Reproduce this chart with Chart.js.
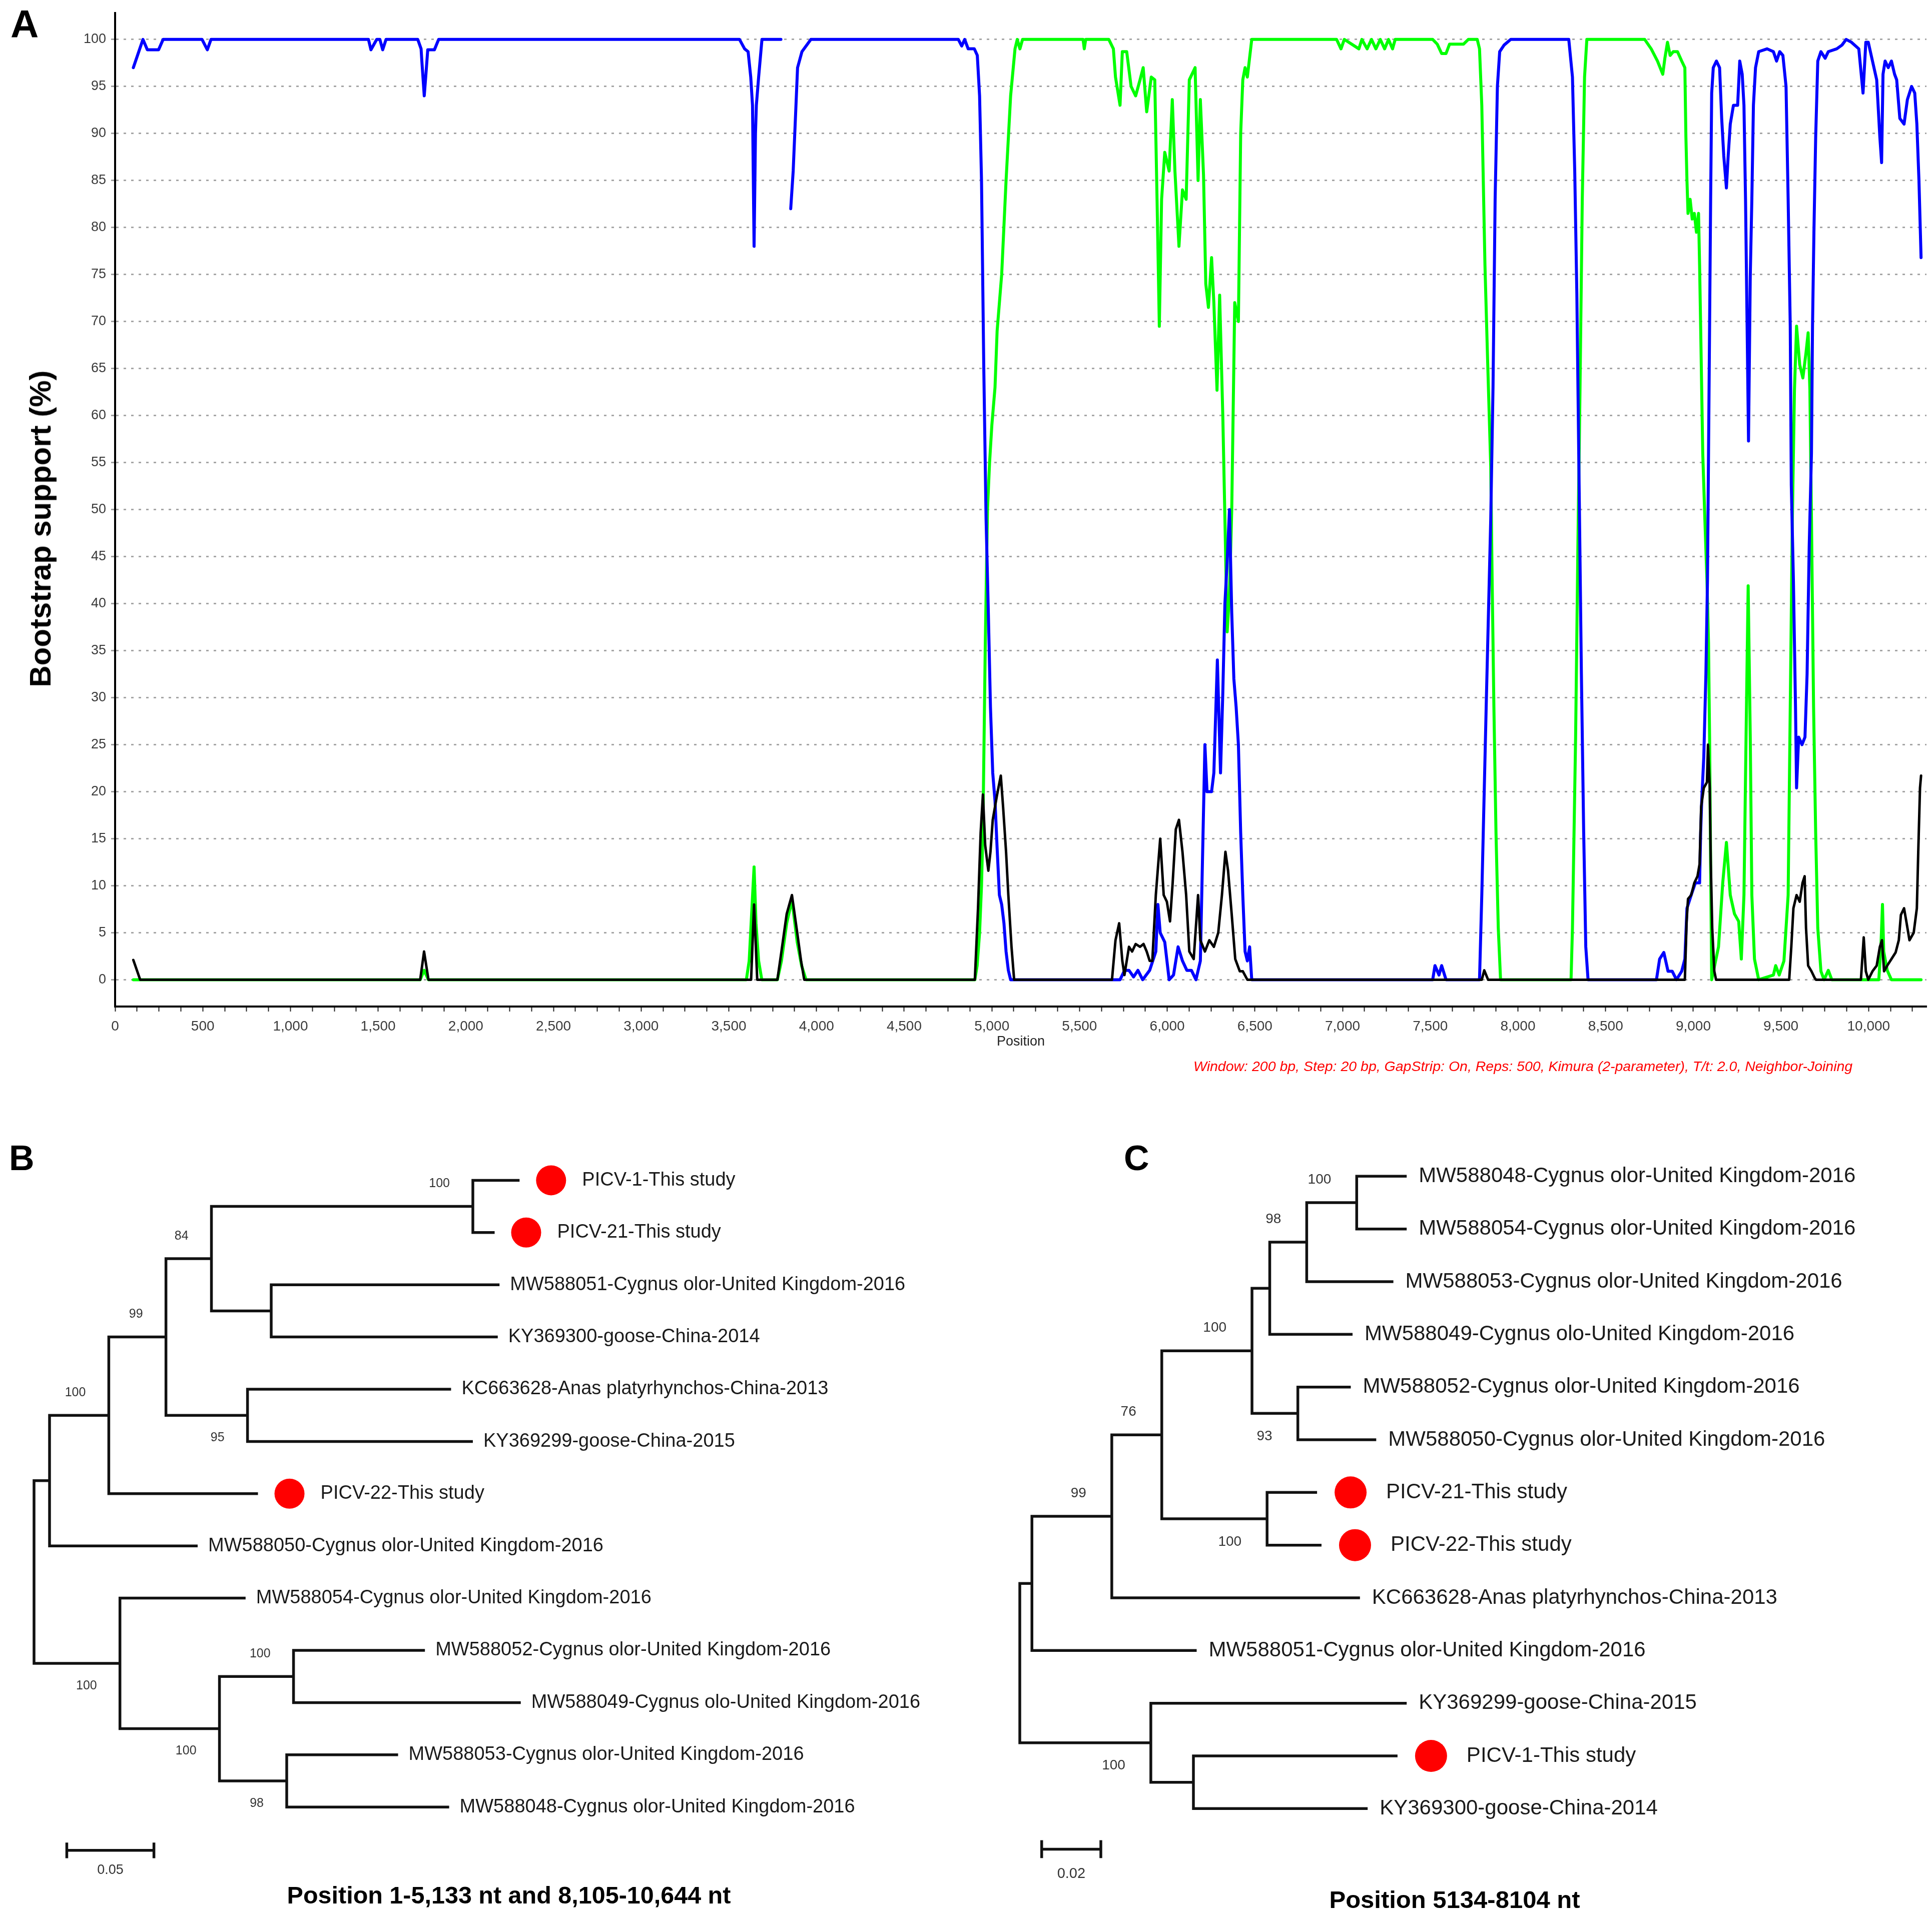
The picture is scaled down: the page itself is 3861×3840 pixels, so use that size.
<!DOCTYPE html>
<html>
<head>
<meta charset="utf-8">
<script src="https://cdn.jsdelivr.net/npm/chart.js@4.4.1/dist/chart.umd.min.js"></script>
<style>
  html, body { margin: 0; padding: 0; background: #fff; }
  body { width: 3861px; height: 3840px; position: relative; overflow: hidden; font-family: Arial, "Liberation Sans", sans-serif; }
  .box { position: absolute; }
  .lbl { position: absolute; line-height: 1; white-space: nowrap; color: #000; }
</style>
</head>
<body>
<div class="box" style="left:0;top:0;width:3861px;height:2200px"><canvas id="chartA"></canvas></div>
<div class="box" style="left:0;top:2200px;width:1950px;height:1640px"><canvas id="treeB"></canvas></div>
<div class="box" style="left:1950px;top:2200px;width:1911px;height:1640px"><canvas id="treeC"></canvas></div>

<div class="lbl" style="left:21px;top:9px;font-size:78px;font-weight:bold">A</div>
<div class="lbl" style="left:81px;top:1057px;font-size:60px;font-weight:bold;transform:translate(-50%,-50%) rotate(-90deg)">Bootstrap support (%)</div>
<div class="lbl" style="left:18px;top:2280px;font-size:70px;font-weight:bold">B</div>
<div class="lbl" style="left:2246px;top:2280px;font-size:70px;font-weight:bold">C</div>
<div class="lbl" style="left:2385px;top:2117px;font-size:28.5px;font-style:italic;color:#ff0000">Window: 200 bp, Step: 20 bp, GapStrip: On, Reps: 500, Kimura (2-parameter), T/t: 2.0, Neighbor-Joining</div>
<div class="lbl" style="left:1017px;top:3764px;font-size:48.5px;font-weight:bold;transform:translateX(-50%)">Position 1-5,133 nt and 8,105-10,644 nt</div>
<div class="lbl" style="left:2907px;top:3773px;font-size:49px;font-weight:bold;transform:translateX(-50%)">Position 5134-8104 nt</div>

<script>
// ---- panel A: bootscan, [position (bp), bootstrap support (%)] ----
const bluePts = [
  [104,97],[159,100],[184,98.9],[248,98.9],[274,100],[496,100],[526,98.9],[547,100],
  [1445,100],[1459,98.9],[1492,100],[1510,100],[1526,98.9],[1545,100],
  [1726,100],[1745,99],[1749,97.8],[1763,94],[1773,96.4],[1783,98.9],[1821,98.9],[1845,100],
  [3561,100],[3590,99],[3610,98.7],[3625,96],[3635,93],[3644,78],[3652,90],[3657,93],[3670,96],[3689,100],[3797,100],[3825,null],
  [3853,82],[3867,86],[3892,97],[3917,98.7],[3968,100],
  [4809,100],[4828,99.3],[4845,100],[4865,99],[4900,99],[4917,98.3],[4930,94],[4941,85],[4954,65],[4967,49],[4980,39],[4992,29],
  [5005,22],[5018,19],[5030,14],[5043,9],[5056,8],[5069,6],[5081,3],[5094,1],[5107,0],
  [5731,0],[5757,1],[5782,1],[5808,0.3],[5833,1],[5860,0],[5900,1],[5935,3],[5947,8],[5960,5],[5986,4],[6011,0],[6036,0.5],
  [6062,3.5],[6087,2],[6112,1],[6138,1],[6164,0],[6189,2],[6215,25],[6227,20],[6253,20],[6266,22],[6286,34],[6304,22],
  [6317,30.5],[6329,40],[6342,44.5],[6355,50],[6368,39],[6380,32],[6393,29],[6406,25],[6419,15.6],[6431,9],[6444,3],
  [6457,2],[6470,3.5],[6482,0],
  [7514,0],[7527,1.5],[7550,0.5],[7565,1.5],[7590,0],
  [7781,0],[7794,9],[7819,29],[7845,49],[7858,63],[7870,83],[7883,95],[7896,98.7],[7921,99.4],[7959,100],
  [8290,100],[8311,96],[8324,86],[8336,73],[8349,52.6],[8362,32.5],[8375,15.7],[8387,3.5],[8400,0],
  [8790,0],[8808,2.2],[8832,2.9],[8856,0.9],[8880,0.9],[8904,0],[8934,0.9],[8952,2.2],[8964,7.6],[8988,9],[9012,10.3],
  [9036,10.3],[9042,15.6],[9048,19],[9060,23.7],[9072,32.5],[9081,42.5],[9087,56],[9093,69.5],[9099,83],[9105,94.3],
  [9114,97],[9132,97.7],[9150,97],[9162,91.6],[9174,87.6],[9189,84.2],[9199,87.6],[9211,91],[9229,93],[9253,93],
  [9265,97.7],[9279,96.3],[9289,93],[9298,83],[9307,69.5],[9315,57.3],[9325,74.8],[9334,83],[9343,93],[9355,97],
  [9373,98.7],[9421,99],[9457,98.7],[9475,97.7],[9493,98.7],[9511,98.3],[9529,95],[9541,83],[9553,69.5],[9559,52.6],
  [9571,42.5],[9583,29],[9589,20.4],[9601,25.8],[9620,25],[9637,25.8],[9649,32.5],[9661,46],[9674,56],[9680,69.5],
  [9688,79.5],[9698,89.6],[9710,97.7],[9728,98.7],[9752,98],[9770,98.7],[9818,99],[9848,99.4],[9872,100],[9902,99.7],
  [9944,99],[9968,94.3],[9984,99.7],[9998,99.7],[10022,97.7],[10046,95.7],[10064,89.6],[10074,86.9],[10082,96.3],
  [10094,97.7],[10112,97],[10130,97.7],[10148,96.3],[10160,95.7],[10178,91.6],[10202,91],[10221,93.6],[10245,95],
  [10263,94.3],[10275,91],[10287,85],[10299,76.8]
];

const greenPts = [
  [104,0],[1740,0],[1762,1],[1787,0],
  [3600,0],[3616,2],[3630,7],[3644,12],[3655,6],[3670,2],[3688,0],
  [3777,0],[3800,2],[3830,6],[3860,8.5],[3890,4],[3915,1.5],[3940,0],
  [4903,0],[4916,1.5],[4930,5],[4941,10],[4949,16],[4962,35],[4975,50],[4987,55],[5000,59],[5018,63],[5030,69],[5056,75],
  [5081,85],[5107,94],[5132,99],[5145,100],[5160,99],[5175,100],[5520,100],[5527,99],[5535,100],[5667,100],
  [5693,99],[5705,96],[5731,93],[5744,98.7],[5769,98.7],[5794,95],[5820,94],[5845,95.7],[5863,97],[5883,92.3],
  [5909,96],[5929,95.7],[5942,83],[5955,69.5],[5968,83],[5986,88],[6011,86],[6029,93.6],[6044,86],[6067,78],
  [6087,84],[6108,83],[6126,95.7],[6159,97],[6176,85],[6189,93.6],[6207,85.6],[6220,74],[6235,71.5],[6253,76.8],
  [6266,72],[6284,62.7],[6299,72.8],[6317,60],[6329,49],[6342,37],[6355,41],[6368,50],[6385,72],[6406,70],
  [6419,90],[6431,95.7],[6444,97],[6457,96],[6482,100],
  [6966,100],[6991,99],[7010,100],[7093,99],[7110,100],[7140,99],[7165,100],[7190,99],[7215,100],[7240,99],
  [7262,100],[7285,99],[7300,100],[7514,100],[7540,99.5],[7565,98.5],[7590,98.5],[7610,99.5],[7690,99.5],[7717,100],
  [7768,100],[7781,99],[7794,93],[7812,76],[7827,66],[7845,54.6],[7853,42.5],[7863,29],[7875,15.6],[7888,5.5],[7901,0],
  [8303,0],[8311,5.5],[8329,25.8],[8342,46],[8354,62.7],[8367,83],[8380,96],[8393,100],
  [8723,100],[8760,99],[8796,97.7],[8826,96.3],[8838,98],[8853,99.7],[8868,98.3],[8886,98.7],[8910,98.7],[8934,97.7],
  [8952,97],[8958,89.6],[8964,85],[8970,81.5],[8982,83],[8994,80.9],[9006,81.5],[9018,79.5],[9030,81.5],[9036,76],
  [9042,69.5],[9048,62.7],[9054,56],[9066,49],[9078,42.5],[9087,35.8],[9093,25.8],[9099,12.3],[9105,0],
  [9144,3.5],[9168,10.3],[9189,14.6],[9211,9],[9235,7],[9259,6.2],[9274,2.2],[9289,9],[9301,25.8],[9313,41.9],
  [9325,25.8],[9334,9],[9349,2.2],[9373,0],[9457,0.5],[9470,1.5],[9490,0.5],[9517,2],[9541,9],[9553,29],[9565,49],
  [9577,62.7],[9589,69.5],[9607,65.4],[9625,64],[9643,66.7],[9655,68.8],[9665,62.7],[9674,49],[9686,29],[9698,15.6],
  [9710,5.5],[9728,0.9],[9746,0],[9770,1],[9790,0],
  [10058,0],[10070,3.5],[10079,8],[10086,3],[10106,1],[10130,0],[10299,0]
];

const blackPts = [
  [104,2.1],[143,0],[1740,0],[1762,3],[1787,0],
  [3627,0],[3644,8],[3662,0],[3777,0],[3800,3],[3830,7],[3860,9],[3890,5],[3912,2],[3930,0],
  [4903,0],[4921,7.6],[4936,15.6],[4949,19.7],[4962,14.3],[4980,11.6],[4992,13.6],[5005,17],[5030,19.7],[5051,21.7],
  [5064,18.4],[5081,13.6],[5094,9],[5112,3.5],[5127,0],
  [5685,0],[5705,4.2],[5726,6],[5744,2],[5756,0.5],[5782,3.5],[5800,3],[5820,3.8],[5845,3.5],[5865,3.8],[5883,3],
  [5900,2],[5915,2],[5935,9],[5960,15],[5980,9],[5998,8.3],[6016,6.2],[6031,10.3],[6049,16],[6067,17],[6087,13.6],
  [6108,9],[6126,3],[6151,2.2],[6176,9],[6189,4.2],[6215,3],[6240,4.2],[6266,3.5],[6291,5],[6312,9],[6332,13.6],
  [6347,11.6],[6368,6.9],[6388,2.2],[6414,0.9],[6431,0.9],[6457,0],
  [7794,0],[7808,1],[7830,0],
  [8952,0],[8962,6.2],[8970,8.6],[8988,9],[9006,10.3],[9024,11],[9036,12.3],[9045,18.4],[9060,20.4],[9078,21],
  [9084,25],[9094,20.4],[9100,12.3],[9108,5.5],[9120,0.9],[9130,0],
  [9547,0],[9559,3.5],[9571,7.6],[9589,9],[9607,8.3],[9623,10.3],[9635,11],[9643,5.5],[9655,1.5],[9674,0.9],[9692,0.2],[9700,0],
  [9956,0],[9972,4.5],[9984,0.9],[9998,0],[10022,0.9],[10046,1.5],[10064,3.5],[10076,4.2],[10088,0.9],[10106,1.5],
  [10130,2.2],[10154,2.9],[10172,4.2],[10184,6.9],[10202,7.6],[10215,6.2],[10233,4.2],[10257,5],[10275,7.6],
  [10283,13.6],[10293,20.4],[10299,21.7]
];

const posTicks = [0,500,1000,1500,2000,2500,3000,3500,4000,4500,5000,5500,6000,6500,7000,7500,8000,8500,9000,9500,10000];
const supportTicks = [0,5,10,15,20,25,30,35,40,45,50,55,60,65,70,75,80,85,90,95,100];

// ---- panel B tree (branch depth from root, substitutions/site) ----
const treeBLeaves = [
  'PICV-1-This study', 'PICV-21-This study', 'MW588051-Cygnus olor-United Kingdom-2016', 'KY369300-goose-China-2014',
  'KC663628-Anas platyrhynchos-China-2013', 'KY369299-goose-China-2015', 'PICV-22-This study',
  'MW588050-Cygnus olor-United Kingdom-2016', 'MW588054-Cygnus olor-United Kingdom-2016',
  'MW588052-Cygnus olor-United Kingdom-2016', 'MW588049-Cygnus olo-United Kingdom-2016',
  'MW588053-Cygnus olor-United Kingdom-2016', 'MW588048-Cygnus olor-United Kingdom-2016'
];
const treeBLen = [0.2786, 0.2643, 0.2671, 0.2661, 0.2393, 0.2518, 0.1285, 0.0939, 0.1214, 0.2243, 0.2793, 0.2089, 0.2382];
// [node, upper child, lower child, depth, bootstrap]
const treeBNodes = [
  ['a', 0, 1, 0.2518, 100], ['b', 2, 3, 0.1361, null], ['c', 'a', 'b', 0.1018, 84], ['d', 4, 5, 0.1225, 95],
  ['e', 'c', 'd', 0.0757, 99], ['f', 'e', 6, 0.0429, 100], ['g', 'f', 7, 0.0089, null],
  ['h', 9, 10, 0.1489, 100], ['i', 11, 12, 0.1450, 98], ['j', 'h', 'i', 0.1064, 100], ['k', 8, 'j', 0.0493, 100],
  ['root', 'g', 'k', 0, null]
];
const treeBBar = 0.05;

// ---- panel C tree ----
const treeCLeaves = [
  'MW588048-Cygnus olor-United Kingdom-2016', 'MW588054-Cygnus olor-United Kingdom-2016',
  'MW588053-Cygnus olor-United Kingdom-2016', 'MW588049-Cygnus olo-United Kingdom-2016',
  'MW588052-Cygnus olor-United Kingdom-2016', 'MW588050-Cygnus olor-United Kingdom-2016',
  'PICV-21-This study', 'PICV-22-This study', 'KC663628-Anas platyrhynchos-China-2013',
  'MW588051-Cygnus olor-United Kingdom-2016', 'KY369299-goose-China-2015', 'PICV-1-This study', 'KY369300-goose-China-2014'
];
const treeCLen = [0.1308, 0.1308, 0.1263, 0.1125, 0.1119, 0.1205, 0.1005, 0.1020, 0.1150, 0.0598, 0.1308, 0.1277, 0.1176];
const treeCNodes = [
  ['a', 0, 1, 0.1139, 100], ['b', 'a', 2, 0.0970, 98], ['c', 'b', 3, 0.0845, null], ['d', 4, 5, 0.0940, 93],
  ['e', 'c', 'd', 0.0785, 100], ['f', 6, 7, 0.0836, 100], ['g', 'e', 'f', 0.0480, 76], ['h', 'g', 8, 0.0311, 99],
  ['i', 'h', 9, 0.0041, null], ['j', 11, 12, 0.0587, null], ['k', 10, 'j', 0.0443, 100],
  ['root', 'i', 'k', 0, null]
];
const treeCBar = 0.02;

const FONT = 'Arial, "Liberation Sans", sans-serif';
Chart.defaults.font.family = FONT;

const toXY = pts => pts.map(([x, y]) => ({x: x, y: y}));

// minor ticks every 125 bp, labels only on the 500s
const xTickVals = [];
for (let v = 0; v <= 10330; v += 125) xTickVals.push(v);

new Chart(document.getElementById('chartA'), {
  type: 'line',
  data: {
    datasets: [
      {data: toXY(blackPts), borderColor: '#000000', borderWidth: 5},
      {data: toXY(bluePts), borderColor: '#0000ff', borderWidth: 6},
      {data: toXY(greenPts), borderColor: '#00ff00', borderWidth: 6}
    ]
  },
  options: {
    responsive: true,
    maintainAspectRatio: false,
    animation: false,
    elements: {
      point: {radius: 0},
      line: {tension: 0, borderJoinStyle: 'round', borderCapStyle: 'round', fill: false}
    },
    layout: {padding: {left: 0, right: 11, top: 5, bottom: 0}},
    plugins: {legend: {display: false}, tooltip: {enabled: false}},
    scales: {
      x: {
        type: 'linear', min: 0, max: 10330,
        afterFit: s => { s.height = 188; },
        afterBuildTicks: s => { s.ticks = xTickVals.map(v => ({value: v})); },
        ticks: {
          autoSkip: false, maxRotation: 0, padding: 13, color: '#3a3a3a', font: {size: 28},
          callback: v => posTicks.includes(v) ? v.toLocaleString('en-US') : ''
        },
        grid: {drawOnChartArea: false, tickLength: 10, tickWidth: 2, tickColor: '#222'},
        border: {color: '#000', width: 4},
        title: {display: true, text: 'Position', color: '#222', font: {size: 27}, padding: {top: 0, bottom: 101}}
      },
      y: {
        min: -2.85, max: 102.8,
        afterFit: s => { s.width = 230; },
        afterBuildTicks: s => { s.ticks = supportTicks.map(v => ({value: v})); },
        ticks: {padding: 10, color: '#3a3a3a', font: {size: 27}},
        grid: {color: '#a6a6a6', lineWidth: 3, tickLength: 8, tickColor: '#a0a0a0', tickWidth: 3},
        border: {color: '#000', width: 4, dash: [5, 10]}
      }
    }
  }
});

// build elbow segments of a rectangular tree
function buildTree(leaves, lens, nodes) {
  const pos = {};
  leaves.forEach((n, i) => { pos[i] = {x: lens[i], y: i}; });
  const lines = [];
  const boots = [];
  const upper = {};
  nodes.forEach(([id, up, lo]) => { upper[up] = true; upper[lo] = false; });
  nodes.forEach(([id, up, lo, d, bs]) => {
    const a = pos[up], b = pos[lo];
    pos[id] = {x: d, y: (a.y + b.y) / 2};
    lines.push({x: a.x, y: a.y}, {x: d, y: a.y}, {x: d, y: b.y}, {x: b.x, y: b.y}, {x: d, y: null});
    if (bs !== null) boots.push({x: d, y: pos[id].y, v: bs, above: upper[id] === true});
  });
  return {lines, boots};
}

function treePlugin(t) {
  return {
    id: 'treeText',
    afterDatasetsDraw(chart) {
      const {ctx, scales: {x, y}} = chart;
      ctx.save();
      ctx.textBaseline = 'middle';
      ctx.font = t.leafFont + 'px ' + FONT;
      t.leaves.forEach((name, i) => {
        const px = x.getPixelForValue(t.lens[i]);
        const py = y.getPixelForValue(i);
        let tx = px + t.textGap;
        if (name.indexOf('This study') >= 0) {
          ctx.fillStyle = '#ff0000';
          ctx.beginPath();
          ctx.arc(px + t.dotGap, py, t.dotR, 0, Math.PI * 2);
          ctx.fill();
          tx = px + t.dotGap + t.dotText;
        }
        ctx.fillStyle = '#1a1a1a';
        ctx.textAlign = 'left';
        ctx.fillText(name, tx, py);
      });
      ctx.font = t.bootFont + 'px ' + FONT;
      ctx.fillStyle = '#333';
      ctx.textAlign = 'right';
      t.boots.forEach(b => {
        ctx.fillText(String(b.v), x.getPixelForValue(b.x) - t.bootDx,
          y.getPixelForValue(b.y) + (b.above ? -t.bootDy : t.bootDy));
      });
      ctx.font = t.barFont + 'px ' + FONT;
      ctx.textAlign = 'center';
      ctx.fillText(String(t.bar), x.getPixelForValue(t.barX + t.bar / 2), y.getPixelForValue(t.barLabelY));
      ctx.restore();
    }
  };
}

function drawTree(id, leaves, lens, nodes, bar, lay) {
  const built = buildTree(leaves, lens, nodes);
  const x0 = lay.barX, x1 = lay.barX + bar, yb = lay.barY, h = lay.tickH;
  const barPts = [
    {x: x0, y: yb}, {x: x1, y: yb}, {x: x1, y: null},
    {x: x0, y: yb - h}, {x: x0, y: yb + h}, {x: x0, y: null},
    {x: x1, y: yb - h}, {x: x1, y: yb + h}
  ];
  new Chart(document.getElementById(id), {
    type: 'scatter',
    data: {
      datasets: [
        {data: built.lines, showLine: true, spanGaps: false, clip: false, borderColor: '#111', borderWidth: 5.5,
         pointRadius: 0, borderJoinStyle: 'miter', borderCapStyle: 'butt'},
        {data: barPts, showLine: true, spanGaps: false, clip: false, borderColor: '#111', borderWidth: 5.5,
         pointRadius: 0, borderJoinStyle: 'miter', borderCapStyle: 'butt'}
      ]
    },
    options: {
      responsive: true,
      maintainAspectRatio: false,
      animation: false,
      layout: {padding: lay.pad},
      plugins: {legend: {display: false}, tooltip: {enabled: false}},
      scales: {
        x: {type: 'linear', display: false, min: 0, max: lay.xMax},
        y: {type: 'linear', display: false, min: -1, max: 14, reverse: true}
      }
    },
    plugins: [treePlugin(Object.assign({leaves, lens, bar, boots: built.boots}, lay))]
  });
}

drawTree('treeB', treeBLeaves, treeBLen, treeBNodes, treeBBar, {
  pad: {left: 68, right: 10, top: 55, bottom: 19}, xMax: 0.5375,
  barX: 0.0188, barY: 12.83, barLabelY: 13.21, tickH: 0.15,
  leafFont: 38, bootFont: 25, barFont: 27,
  textGap: 21, dotGap: 63, dotR: 30, dotText: 62, bootDx: 46, bootDy: 45
});

drawTree('treeC', treeCLeaves, treeCLen, treeCNodes, treeCBar, {
  pad: {left: 88, right: 10, top: 46, bottom: 14}, xMax: 0.3067,
  barX: 0.0074, barY: 12.77, barLabelY: 13.24, tickH: 0.17,
  leafFont: 42, bootFont: 28, barFont: 29,
  textGap: 24, dotGap: 67, dotR: 32, dotText: 71, bootDx: 51, bootDy: 46
});
</script>
</body>
</html>
